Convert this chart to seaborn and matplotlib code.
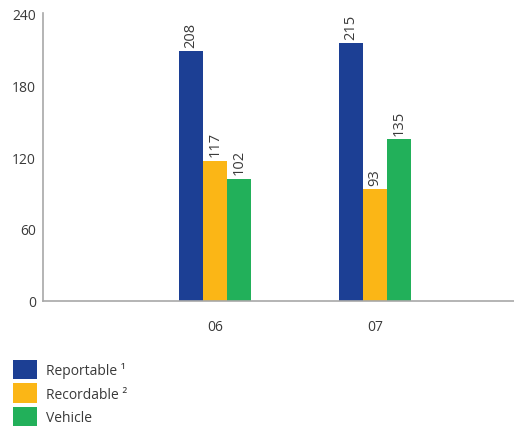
import matplotlib
matplotlib.use("Agg")
import matplotlib.pyplot as plt
import seaborn as sns
import pandas as pd

years = ["06", "07"]
series = ["Reportable", "Recordable", "Vehicle"]
legend_labels = ["Reportable \u00b9", "Recordable \u00b2", "Vehicle"]
reportable = [208, 215]
recordable = [117, 93]
vehicle = [102, 135]
yticks = [0, 60, 120, 180, 240]

colors = ["#1c3f94", "#fbb616", "#22b05a"]
text_color = "#3a3a3a"
axis_color = "#a8a8a8"

rows = []
for name, vals in zip(series, [reportable, recordable, vehicle]):
    for yr, v in zip(years, vals):
        rows.append({"year": yr, "type": name, "count": v})
df = pd.DataFrame(rows)

sns.set_theme(style="white")
plt.rcParams["font.family"] = ["Open Sans", "DejaVu Sans"]

fig = plt.figure(figsize=(5.14, 4.27), dpi=100)
ax = fig.add_axes([43 / 514, 125 / 427, 471 / 514, 288 / 427])

sns.barplot(data=df, x="year", y="count", hue="type", order=years,
            hue_order=series, palette=colors, width=0.45, gap=0,
            saturation=1, linewidth=0, edgecolor="none", ax=ax, legend=False)

for cont in ax.containers:
    ax.bar_label(cont, rotation=90, padding=3, fontsize=10.5, color=text_color)

ax.set_xlim(-1.075, 1.869)
ax.set_ylim(0, 240)
ax.set_yticks(yticks)
ax.set_xlabel("")
ax.set_ylabel("")
ax.tick_params(axis="both", length=0, labelsize=10, colors=text_color)
ax.tick_params(axis="x", pad=13)
ax.tick_params(axis="y", pad=5)
for s in ["top", "right"]:
    ax.spines[s].set_visible(False)
for s in ["left", "bottom"]:
    ax.spines[s].set_color(axis_color)
    ax.spines[s].set_linewidth(1.2)

handles = [plt.Rectangle((0, 0), 1, 1, facecolor=c, edgecolor="none") for c in colors]
leg = fig.legend(handles, legend_labels, loc="upper left",
                 bbox_to_anchor=(2 / 514, 1 - 350 / 427), frameon=False,
                 fontsize=10, handlelength=1.75, handleheight=1.75,
                 labelspacing=0.3, handletextpad=0.6, borderpad=0.3)
for t in leg.get_texts():
    t.set_color(text_color)

fig.savefig("out.png", dpi=100)
